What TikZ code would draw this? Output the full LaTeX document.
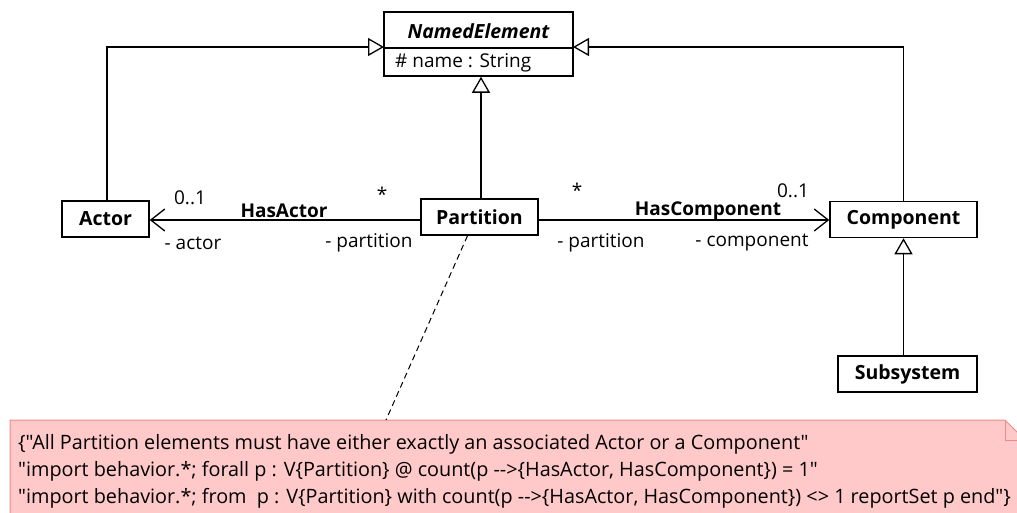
\documentclass[tikz,border=0pt]{standalone}
\usepackage{fontspec}
\setmainfont{Open Sans}[Ligatures=TeXOff]
\usetikzlibrary{arrows.meta,calc}
\definecolor{notefill}{HTML}{FFC9C9}
\definecolor{noteline}{HTML}{F08A8A}
\tikzset{
  cls/.style={draw, line width=1.5pt, font=\fontsize{19.5}{22}\selectfont\bfseries, inner sep=0pt, minimum height=36pt},
  gen/.style={line width=1.3pt, -{Triangle[open, length=16pt, width=18pt, line width=1.3pt]}},
  assoc/.style={line width=1.3pt, -{Straight Barb[length=14pt, width=22pt, line width=1.3pt]}},
  lbl/.style={font=\fontsize{19}{22}\selectfont, inner sep=0pt},
  blbl/.style={font=\fontsize{19}{22}\selectfont\bfseries, inner sep=0pt},
  notetxt/.style={font=\fontsize{19.8}{22}\selectfont, inner sep=0pt, anchor=base west},
}
\begin{document}
\begin{tikzpicture}[x=1pt,y=-1pt]
\useasboundingbox (0,0) rectangle (1017,512);
\clip (0,0) rectangle (1017,512);
% NamedElement
\node[draw, line width=1.5pt, minimum width=189pt, minimum height=64pt, inner sep=0pt] (ne) at (478.5,44) {};
\draw[line width=1.3pt] (384,48) coordinate (divL) -- (573,48) coordinate (divR);
\node[lbl, font=\fontsize{19.5}{22}\selectfont\bfseries\itshape] (netitle) at (478.5,31) {NamedElement};
\node[lbl, anchor=west] (neattr) at (395,63) {\# name : String};
\coordinate (neL) at (384,47);
\coordinate (neR) at (573,47);
% classes
\node[cls, minimum width=87pt] (actor) at (105.5,219) {Actor};
\node[cls, minimum width=117pt] (part) at (479.5,217) {Partition};
\node[cls, minimum width=147pt] (comp) at (903.5,219.5) {Component};
\node[cls, minimum width=139pt] (sub) at (907.5,374) {Subsystem};
% generalizations
\coordinate (actTop) at ($(actor.north)+(1.5,0)$);
\coordinate (partTop) at ($(part.north)+(1.5,0)$);
\draw[gen] (actTop) |- (neL);
\draw[gen] (comp.north) |- (neR);
\draw[gen] (partTop) -- (partTop |- ne.south);
\draw[gen] (sub.north -| comp.south) -- (comp.south);
% associations
\draw[assoc] (part.west |- 0,220) -- (actor.east |- 0,220);
\draw[assoc] (part.east |- 0,220) -- (comp.west |- 0,220);
\node[lbl] (m1) at (190,198) {0..1};
\node[lbl] (m2) at (382,194) {*};
\node[blbl] (hasactor) at (284,211) {HasActor};
\node[lbl] (r1) at (193,243) {- actor};
\node[lbl] (r2) at (369,243) {- partition};
\node[lbl] (m3) at (577,190) {*};
\node[lbl] (r3) at (601,243) {- partition};
\node[blbl] (hascomp) at (708,211) {HasComponent};
\node[lbl] (m4) at (793,191) {0..1};
\node[lbl] (r4) at (752,243) {- component};
% note
\draw[line width=1pt, draw=noteline, fill=notefill] (10,420) coordinate (noteTL) -- (1005,420) -- (1025,440) -- (1025,530) -- (10,530) -- cycle;
\draw[line width=1pt, draw=noteline] (1005,420) -- (1005,440) -- (1025,440);
\node[notetxt] (note1) at (18,449) {\{"All Partition elements must have either exactly an associated Actor or a Component"};
\node[notetxt] (note2) at (18,476) {"import behavior.*; forall p : V\{Partition\} @ count(p -->\{HasActor, HasComponent\}) = 1"};
\node[notetxt] (note3) at (18,503) {"import behavior.*; from\ \ p : V\{Partition\} with count(p -->\{HasActor, HasComponent\}) <> 1 reportSet p end"\}};
\coordinate (noteanchor) at (386,420);
\draw[line width=1pt, dashed, dash pattern=on 6pt off 4pt] ($(part.south)+(-12,0)$) -- (noteanchor);
\end{tikzpicture}
\end{document}
